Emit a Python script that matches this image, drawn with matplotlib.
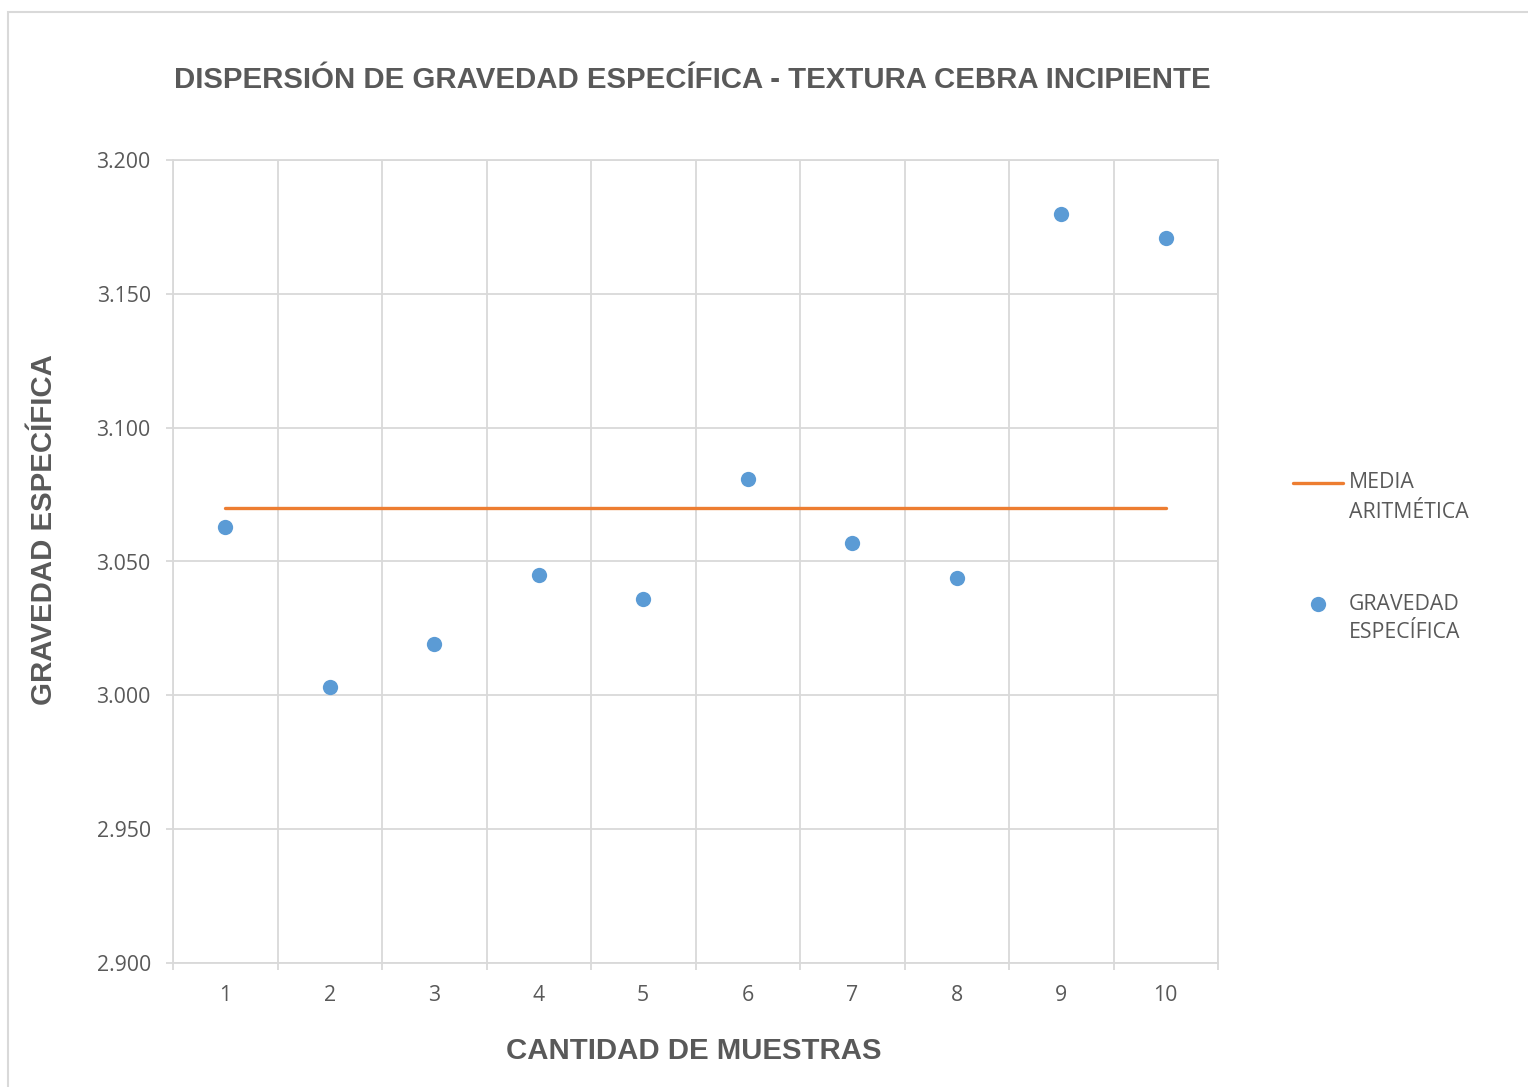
import numpy as np
import matplotlib.pyplot as plt
from matplotlib.lines import Line2D
from matplotlib.patches import Rectangle

# Datos
muestras = [1, 2, 3, 4, 5, 6, 7, 8, 9, 10]
gravedad = [3.063, 3.003, 3.019, 3.045, 3.036, 3.081, 3.057, 3.044, 3.180, 3.171]
media = 3.070
y_ticks = [2.900, 2.950, 3.000, 3.050, 3.100, 3.150, 3.200]

gris_texto = '#595959'
gris_linea = '#d9d9d9'
naranja = '#ED7D31'
azul = '#5B9BD5'
fuente = ['Open Sans', 'DejaVu Sans']
fuente_bold = ['Liberation Sans', 'DejaVu Sans']
tam = 15.3
tam_titulo = 21.2

fig = plt.figure(figsize=(15.28, 10.87), dpi=100)
W, H = 1528, 1087

# borde del area del grafico
fig.add_artist(Rectangle((8 / W, -0.05), 1.2, 1 - 12 / H + 0.05, transform=fig.transFigure,
                         fill=False, edgecolor=gris_linea, lw=1.5, clip_on=False))

ax = fig.add_axes([173 / W, 1 - 963 / H, (1218 - 173) / W, (963 - 160) / H])

# media aritmetica y puntos
ax.plot(muestras, [media] * len(muestras), color=naranja, lw=2.4, solid_capstyle='round', zorder=3)
ax.plot(muestras, gravedad, 'o', color=azul, markersize=11, markeredgewidth=0, zorder=4)

ax.set_xlim(0.5, 10.5)
ax.set_ylim(2.9, 3.2)
ax.set_yticks(y_ticks)
ax.set_yticklabels(['%.3f' % v for v in y_ticks])
ax.set_xticks(muestras)
ax.set_xticklabels([str(m) for m in muestras])
ax.set_xticks(np.arange(0.5, 11, 1.0), minor=True)

ax.grid(axis='y', which='major', color=gris_linea, lw=1.3)
ax.grid(axis='x', which='minor', color=gris_linea, lw=1.3)
ax.set_axisbelow(True)

ax.tick_params(axis='x', which='major', length=0, pad=16, labelsize=tam, labelcolor=gris_texto)
ax.tick_params(axis='x', which='minor', length=5, width=1.3, color=gris_linea, direction='out')
ax.tick_params(axis='y', which='major', length=5, width=1.3, color=gris_linea, pad=11,
               labelsize=tam, labelcolor=gris_texto)
for lab in ax.get_xticklabels() + ax.get_yticklabels():
    lab.set_family(fuente)

for s in ax.spines.values():
    s.set_color(gris_linea)
    s.set_linewidth(1.3)

# titulos
fig.text(692 / W, 1 - 80 / H, 'DISPERSIÓN DE GRAVEDAD ESPECÍFICA - TEXTURA CEBRA INCIPIENTE',
         ha='center', va='center', fontsize=tam_titulo, fontweight='bold', color=gris_texto,
         family=fuente_bold)
fig.text(694 / W, 1 - 1051 / H, 'CANTIDAD DE MUESTRAS', ha='center', va='center',
         fontsize=tam_titulo, fontweight='bold', color=gris_texto, family=fuente_bold)
fig.text(44 / W, 1 - 530 / H, 'GRAVEDAD ESPECÍFICA', ha='center', va='center', rotation=90,
         fontsize=tam_titulo, fontweight='bold', color=gris_texto, family=fuente_bold)

# leyenda
fig.add_artist(Line2D([1293 / W, 1343 / W], [1 - 483 / H, 1 - 483 / H], transform=fig.transFigure,
                      color=naranja, lw=2.4, solid_capstyle='round'))
fig.text(1349 / W, 1 - 483 / H, 'MEDIA', ha='left', va='center', fontsize=tam,
         color=gris_texto, family=fuente)
fig.text(1349 / W, 1 - 512 / H, 'ARITMÉTICA', ha='left', va='center', fontsize=tam,
         color=gris_texto, family=fuente)
fig.add_artist(Line2D([1318 / W], [1 - 604 / H], transform=fig.transFigure, marker='o',
                      color=azul, markersize=11, markeredgewidth=0, linestyle='none'))
fig.text(1349 / W, 1 - 604 / H, 'GRAVEDAD', ha='left', va='center', fontsize=tam,
         color=gris_texto, family=fuente)
fig.text(1349 / W, 1 - 633 / H, 'ESPECÍFICA', ha='left', va='center', fontsize=tam,
         color=gris_texto, family=fuente)

fig.savefig('out.png', dpi=100)
